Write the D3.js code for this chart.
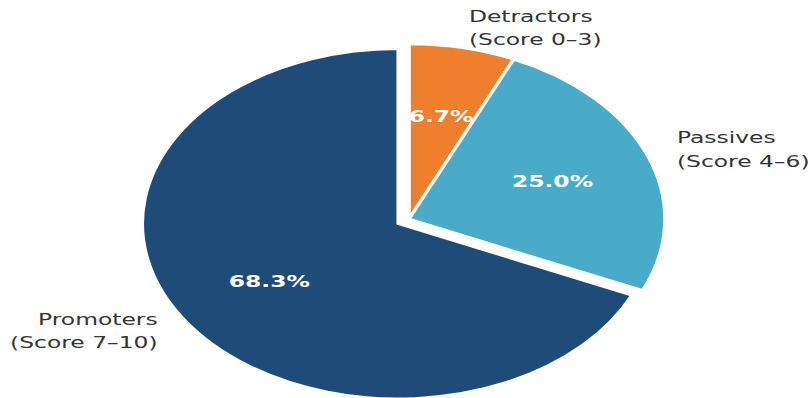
<!DOCTYPE html>
<html>
<head>
<meta charset="utf-8">
<script src="https://cdn.jsdelivr.net/npm/d3@7"></script>
<style>
  html, body { margin: 0; padding: 0; background: #ffffff; }
  svg { display: block; }
  text { font-family: "DejaVu Sans", sans-serif; }
</style>
</head>
<body>
<svg id="chart" width="811" height="398"></svg>
<script>
// NPS breakdown
const segments    = ["Detractors", "Passives", "Promoters"];
const scoreRanges = ["(Score 0–3)", "(Score 4–6)", "(Score 7–10)"];
const shares      = [6.7, 25.0, 68.3];
const colors      = ["#ef7f2c", "#4aabc9", "#1f4b78"];
const explodedSegment = "Promoters";

const width = 811, height = 398;
const cx = 409, cy = 219;
const radius = 175;
const stretchX = 1.463;          // the pie is drawn as a horizontally stretched ellipse
const explodeFrac = 0.05;
const labelDistance = 1.12;
const pctDistance = 0.6;

const svg = d3.select("#chart");
const g = svg.append("g")
  .attr("transform", `translate(${cx},${cy}) scale(${stretchX},1)`);

const data = segments.map((name, i) => ({
  name, range: scoreRanges[i], value: shares[i], color: colors[i]
}));

const pie = d3.pie()
  .sort(null)
  .value(d => d.value)
  .startAngle(0)
  .endAngle(2 * Math.PI);

const arc = d3.arc().innerRadius(0).outerRadius(radius);

const arcs = pie(data).map(a => {
  const mid = (a.startAngle + a.endAngle) / 2;
  const off = a.data.name === explodedSegment ? explodeFrac * radius : 0;
  return {
    ...a,
    mid,
    ox: Math.sin(mid) * off,
    oy: -Math.cos(mid) * off
  };
});

// wedges
g.selectAll("path.wedge")
  .data(arcs)
  .join("path")
  .attr("class", "wedge")
  .attr("transform", d => `translate(${d.ox},${d.oy})`)
  .attr("d", arc)
  .attr("fill", d => d.data.color)
  .attr("stroke", "#ffffff")
  .attr("stroke-width", 2.5)
  .attr("stroke-linejoin", "miter");

// category labels outside the pie
const fs = 16;
const labels = g.selectAll("text.cat")
  .data(arcs)
  .join("text")
  .attr("class", "cat")
  .attr("font-size", fs)
  .attr("fill", "#333333")
  .attr("text-anchor", d => Math.sin(d.mid) > 0 ? "start" : "end")
  .attr("transform", d => {
    const x = d.ox + Math.sin(d.mid) * radius * labelDistance;
    const y = d.oy - Math.cos(d.mid) * radius * labelDistance;
    return `translate(${x},${y})`;
  });

labels.append("tspan")
  .attr("x", 0)
  .attr("y", -0.6 * fs * 1.2 + 0.365 * fs)
  .text(d => d.data.name);
labels.append("tspan")
  .attr("x", 0)
  .attr("y", 0.6 * fs * 1.2 + 0.365 * fs)
  .text(d => d.data.range);

// percentage labels inside the wedges
g.selectAll("text.pct")
  .data(arcs)
  .join("text")
  .attr("class", "pct")
  .attr("font-size", 16)
  .attr("font-weight", "bold")
  .attr("fill", "#ffffff")
  .attr("text-anchor", "middle")
  .attr("x", d => d.ox + Math.sin(d.mid) * radius * pctDistance)
  .attr("y", d => d.oy - Math.cos(d.mid) * radius * pctDistance + 0.365 * 16)
  .text(d => d.data.value.toFixed(1) + "%");
</script>
</body>
</html>
